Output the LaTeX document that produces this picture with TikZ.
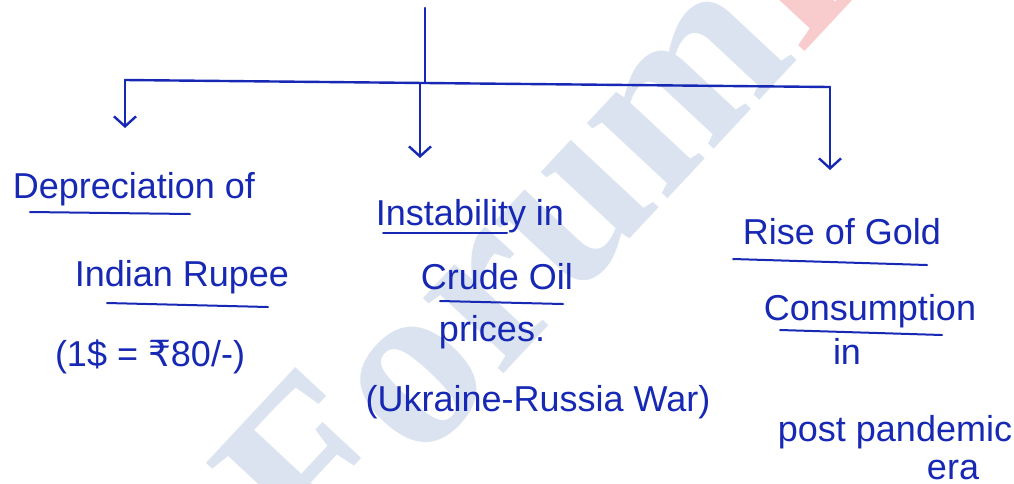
\documentclass[tikz,border=0pt]{standalone}
\usepackage{fontspec}
\setmainfont{Liberation Sans}
\newfontfamily\rupeefont{DejaVu Sans}
\newfontfamily\markfont{Liberation Serif}
\usepackage{xcolor}
\usetikzlibrary{arrows.meta}
\definecolor{ink}{RGB}{22,40,180}
\definecolor{mark}{RGB}{218,227,239}
\definecolor{markred}{RGB}{248,204,204}

\begin{document}
\begin{tikzpicture}[x=1pt, y=-1pt,
  every node/.style={font=\fontsize{36}{42}\selectfont, text=ink, inner sep=0pt, anchor=base},
  wire/.style={draw=ink, line width=2.4pt, line cap=round, line join=round},
  drop/.style={wire, -{Straight Barb[length=10pt, width=22pt, line width=2.4pt]}},
  uline/.style={draw=ink, line width=2pt, line cap=round}]
  \fill[white] (0,0) rectangle (1014,483);
  \useasboundingbox (0,0) rectangle (1014,483);
  \clip (0,0) rectangle (1014,483);

  % faint stamp across the page
  \node[font=\fontsize{240}{240}\markfont\bfseries, text=mark, rotate=47, anchor=base west]
    (stamp) at (318,574) {Forum{\color{markred}IAS}};

  % tree lines
  \coordinate (top) at (425,8);
  \coordinate (hub) at (425,83);
  \coordinate (lcorner) at (125,80);
  \coordinate (mfoot) at (420,84);
  \coordinate (rcorner) at (830,87);
  \coordinate (ltip) at (125,128);
  \coordinate (mtip) at (420,158);
  \coordinate (rtip) at (830,170);
  \draw[wire] (top) -- (hub);
  \draw[wire] (lcorner) -- (hub) -- (rcorner);
  \draw[drop] (lcorner) -- (ltip);
  \draw[drop] (mfoot) -- (mtip);
  \draw[drop] (rcorner) -- (rtip);

  % left branch
  \node (dep1) at (134,198) {Depreciation of};
  \node (dep2) at (182,286) {Indian Rupee};
  \node (dep3) at (150,366) {(1\$ = {\rupeefont ₹}80/-)};

  % middle branch
  \node (ins1) at (470,225) {Instability in};
  \node (ins2) at (497,289) {Crude Oil};
  \node (ins3) at (492,341) {prices.};
  \node (ins4) at (538,411) {(Ukraine-Russia War)};

  % right branch
  \node (gold1) at (842,244) {Rise of Gold};
  \node (gold2) at (870,320) {Consumption};
  \node (gold3) at (847,364) {in};
  \node (gold4) at (895,441) {post pandemic};
  \node (gold5) at (953,479) {era};

  % underlines
  \foreach \a/\b in {{30,212}/{190,214}, {107,303}/{268,307}, {383,233}/{507,233},
                     {440,301}/{563,304}, {733,259}/{927,265}, {780,330}/{942,335}}
    \draw[uline] (\a) -- (\b);
\end{tikzpicture}
\end{document}
